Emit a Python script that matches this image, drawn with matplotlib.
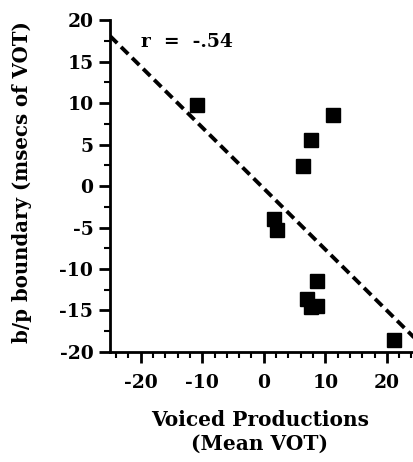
import matplotlib
matplotlib.use("Agg")
import matplotlib.pyplot as plt
import numpy as np
from matplotlib.ticker import MultipleLocator

# Data
voiced_mean_vot = [-10.8, 11.3, 7.6, 6.4, 1.6, 2.1, 8.7, 7.0, 7.6, 8.6, 21.1]
bp_boundary = [9.8, 8.5, 5.6, 2.4, -4.0, -5.3, -11.4, -13.6, -14.6, -14.4, -18.6]
fit_slope = -0.735
fit_intercept = -0.3
r_label = "r  =  -.54"
x_ticks = [-20, -10, 0, 10, 20]
y_ticks = [-20, -15, -10, -5, 0, 5, 10, 15, 20]

plt.rcParams['font.family'] = ['DejaVu Serif']
plt.rcParams['font.weight'] = 'bold'
plt.rcParams['axes.unicode_minus'] = False

fig = plt.figure(figsize=(4.14, 4.62), dpi=100)
ax = fig.add_axes([0.2657, 0.2381, 0.7430, 0.7186])

ax.plot(voiced_mean_vot, bp_boundary, 's', color='black', ms=10.5, zorder=3)

xl = np.array([-25, 25])
ax.plot(xl, fit_slope * xl + fit_intercept, color='black', lw=2.8,
        dashes=(2.6, 1.4), clip_on=True)

ax.set_xlim(-25, 25)
ax.set_ylim(-20, 20)
ax.set_xticks(x_ticks)
ax.set_yticks(y_ticks)
ax.xaxis.set_minor_locator(MultipleLocator(2))
ax.yaxis.set_minor_locator(MultipleLocator(2.5))

for s in ['top', 'right']:
    ax.spines[s].set_visible(False)
for s in ['left', 'bottom']:
    ax.spines[s].set_linewidth(2)

ax.tick_params(axis='both', which='major', direction='out', length=8, width=2,
               labelsize=13.5)
ax.tick_params(axis='both', which='minor', direction='out', length=4, width=1.5)
ax.tick_params(axis='x', which='major', pad=8)
ax.tick_params(axis='y', which='major', pad=4)
for lab in ax.get_xticklabels() + ax.get_yticklabels():
    lab.set_fontweight('bold')

ax.text(-20, 17.4, r_label, fontsize=13.5, fontweight='bold', ha='left', va='center')

fig.text(0.053, 0.607, "b/p boundary (msecs of VOT)", rotation=90, ha='center',
         va='center', fontsize=14.2, fontweight='bold')
fig.text(0.628, 0.065, "Voiced Productions\n(Mean VOT)", ha='center', va='center',
         fontsize=14.5, fontweight='bold', linespacing=1.25)

fig.savefig("out.png", dpi=100)
